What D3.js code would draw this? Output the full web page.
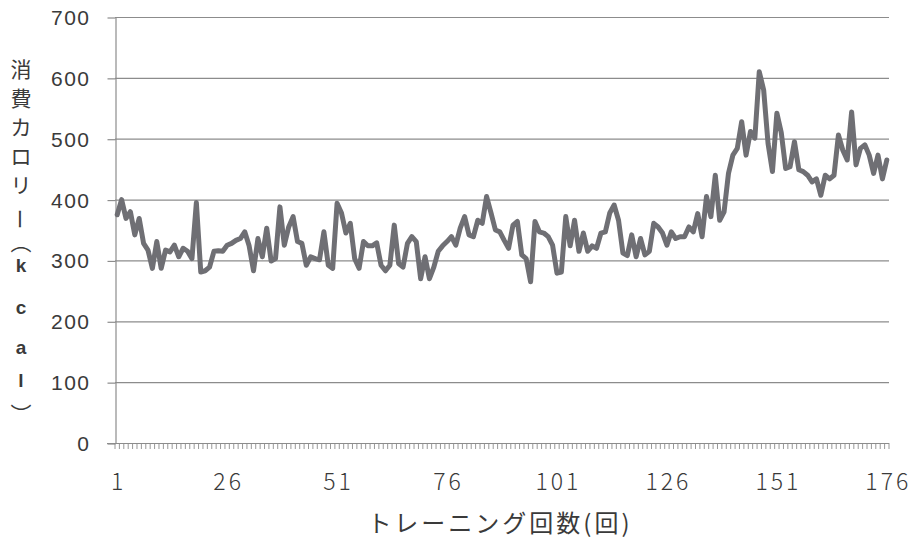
<!DOCTYPE html>
<html>
<head>
<meta charset="utf-8">
<script src="https://cdn.jsdelivr.net/npm/d3@7"></script>
<style>
  html, body { margin: 0; padding: 0; background: #fff; }
  svg { display: block; }
</style>
</head>
<body>
<svg id="chart" width="914" height="539"></svg>
<script>
// Calories burned per training session (kcal), sessions 1..176
const calories = [
  375, 400, 369, 380, 342, 369, 328, 317, 287, 331,
  287, 317, 314, 325, 306, 320, 315, 303, 395, 281,
  283, 289, 315, 316, 315, 325, 328, 333, 336, 347,
  324, 283, 336, 306, 353, 299, 303, 388, 325, 355,
  372, 331, 328, 292, 306, 303, 301, 347, 292, 287,
  394, 378, 345, 361, 303, 287, 331, 324, 324, 329,
  292, 283, 292, 358, 295, 289, 328, 339, 331, 270,
  306, 270, 289, 315, 324, 331, 339, 325, 353, 372,
  342, 339, 366, 361, 405, 378, 350, 347, 333, 320,
  358, 364, 309, 303, 265, 364, 347, 345, 339, 325,
  279, 281, 372, 324, 366, 315, 345, 315, 324, 320,
  345, 347, 378, 391, 366, 312, 308, 342, 306, 336,
  309, 315, 361, 355, 345, 325, 347, 336, 339, 339,
  355, 347, 377, 339, 405, 372, 440, 366, 380, 443,
  473, 484, 528, 473, 512, 501, 610, 580, 492, 446,
  542, 510, 451, 454, 495, 449, 446, 440, 429, 434,
  407, 440, 434, 440, 506, 481, 465, 544, 457, 484,
  490, 473, 443, 473, 434, 465
];
const sessions = calories.map((_, i) => i + 1);
const xTickLabels = [1, 26, 51, 76, 101, 126, 151, 176];
const yTicks = [0, 100, 200, 300, 400, 500, 600, 700];
const yTitleChars = ["消", "費", "カ", "ロ", "リ", "ー", "︵", "k", "c", "a", "l", "︶"];
const xTitle = "トレーニング回数(回)";

const svg = d3.select("#chart");
const plot = { left: 115, right: 889, top: 17, bottom: 443 };

const x = d3.scaleBand().domain(sessions).range([plot.left, plot.right]).padding(0);
const xEdge = d3.scaleLinear().domain([0, sessions.length]).range([plot.left, plot.right]);
const y = d3.scaleLinear().domain([0, 700]).range([plot.bottom, plot.top]);

const gridColor = "#8c8c8c";
const textColor = "#3a3a3a";

// horizontal gridlines
svg.append("g")
  .selectAll("line")
  .data(yTicks.filter(d => d > 0))
  .join("line")
  .attr("x1", plot.left).attr("x2", plot.right)
  .attr("y1", d => y(d) + 0.5).attr("y2", d => y(d) + 0.5)
  .attr("stroke", gridColor).attr("stroke-width", 1.2);

// y axis
const yAxis = svg.append("g")
  .attr("transform", `translate(${plot.left + 0.5},0)`)
  .call(d3.axisLeft(y).tickValues(yTicks).tickSize(8).tickPadding(17).tickSizeOuter(0));
yAxis.select(".domain").attr("stroke", gridColor).attr("stroke-width", 1.2);
yAxis.selectAll(".tick line").attr("stroke", gridColor).attr("stroke-width", 1.2)
  .attr("transform", "translate(0,0.5)");
yAxis.selectAll(".tick text")
  .attr("font-family", "'Liberation Sans', Arial, sans-serif")
  .attr("font-size", 21).attr("letter-spacing", 1.5)
  .attr("fill", textColor).attr("dy", "0.36em");

// x axis line and boundary ticks
const xAxisG = svg.append("g");
xAxisG.append("line")
  .attr("x1", plot.left - 8).attr("x2", plot.right)
  .attr("y1", plot.bottom + 0.5).attr("y2", plot.bottom + 0.5)
  .attr("stroke", gridColor).attr("stroke-width", 1.2);
xAxisG.selectAll("line.tick")
  .data(d3.range(0, sessions.length + 1))
  .join("line")
  .attr("class", "tick")
  .attr("x1", d => xEdge(d)).attr("x2", d => xEdge(d))
  .attr("y1", plot.bottom).attr("y2", plot.bottom + 6)
  .attr("stroke", gridColor).attr("stroke-width", 0.9);

xAxisG.selectAll("text")
  .data(xTickLabels)
  .join("text")
  .attr("x", d => x(d) + x.bandwidth() / 2 + 1.5)
  .attr("y", plot.bottom + 37)
  .attr("text-anchor", "middle")
  .attr("dominant-baseline", "central")
  .attr("font-family", "'Noto Sans CJK JP', sans-serif")
  .attr("font-weight", 300)
  .attr("font-size", 23)
  .attr("letter-spacing", 3)
  .attr("fill", textColor)
  .text(d => d);

// data line
const line = d3.line()
  .x((d, i) => x(sessions[i]) + x.bandwidth() / 2)
  .y(d => y(d));
svg.append("path")
  .datum(calories)
  .attr("d", line)
  .attr("fill", "none")
  .attr("stroke", "#6f6f74")
  .attr("stroke-width", 5)
  .attr("stroke-linejoin", "round")
  .attr("stroke-linecap", "round");

// x axis title
svg.append("text")
  .attr("x", 500).attr("y", 521)
  .attr("text-anchor", "middle")
  .attr("dominant-baseline", "central")
  .attr("font-family", "'Noto Sans CJK JP', sans-serif")
  .attr("font-size", 24)
  .attr("letter-spacing", 3)
  .attr("fill", textColor)
  .text(xTitle);

// y axis title, stacked one character per row
const titleRows = [68, 97, 126, 155, 184, 219, 241, 265, 307, 347, 380, 413];
const isLatin = d => /[a-z]/.test(d);
svg.append("g")
  .selectAll("text")
  .data(yTitleChars)
  .join("text")
  .attr("transform", (d, i) => `translate(21,${titleRows[i]})` + (d === "ー" ? " rotate(90)" : ""))
  .attr("text-anchor", "middle")
  .attr("dominant-baseline", "central")
  .attr("font-family", d => isLatin(d) ? "'Liberation Sans', Arial, sans-serif" : "'Noto Sans CJK JP', sans-serif")
  .attr("font-weight", d => isLatin(d) ? "bold" : "normal")
  .attr("font-size", d => isLatin(d) ? 19 : 21)
  .attr("fill", textColor)
  .text(d => d);
</script>
</body>
</html>
